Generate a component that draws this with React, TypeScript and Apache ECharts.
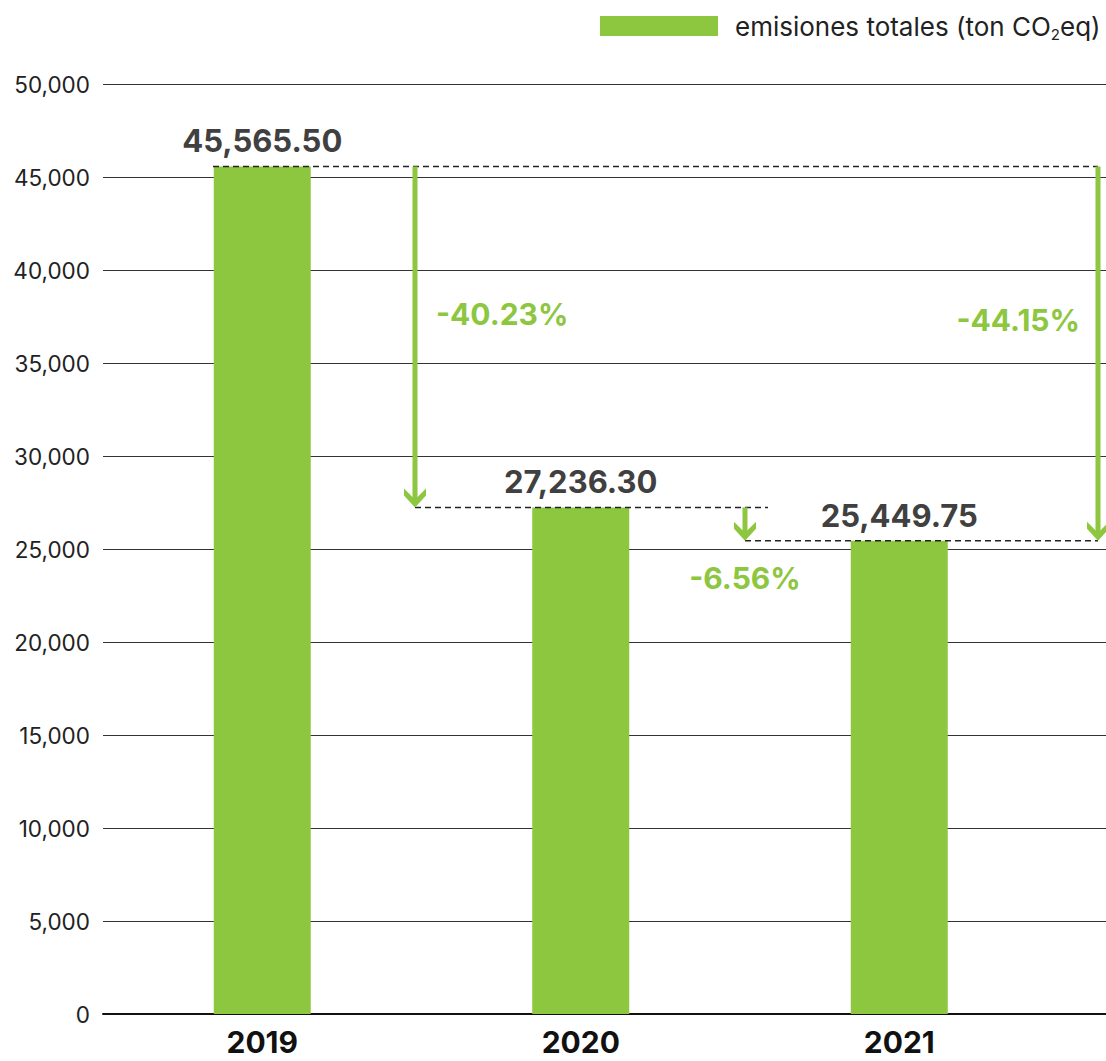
import React, { useEffect, useRef } from "react";
import * as echarts from "echarts";

const categories = ["2019", "2020", "2021"];
const emissions = [45565.5, 27236.3, 25449.75];
const yMin = 0;
const yMax = 50000;
const yStep = 5000;
const legendName = "emisiones totales (ton CO2eq)";
// comparisons: [from index, to index]
const comparisons = [
  [0, 1],
  [1, 2],
  [0, 2],
];

const GREEN = "#8DC63F";
const FONT = "Inter, 'Noto Sans', sans-serif";

// layout (category units on the annotation axis)
const W = 1106;
const H = 1061;
const GRID_LEFT = 103;
const GRID_TOP = 84;
const GRID_BOTTOM = 47;
const BAR_GRID_WIDTH = 955.5;
const FULL_WIDTH = W - GRID_LEFT;
const CAT = BAR_GRID_WIDTH / categories.length;
const X_MAX = FULL_WIDTH / CAT;
const BAR_WIDTH = 97;
const px = (x: number) => (x - GRID_LEFT) / CAT;

const arrowLayout = [
  { x: px(415), ref: "top", dx: 21, dy: 148, align: "left" },
  { x: px(745), ref: "bottom", dx: 0, dy: 37, align: "center" },
  { x: px(1098), ref: "top", dx: -18, dy: 154, align: "right" },
];
const dashLayout = [
  { value: 0, from: px(213), to: px(1098) },
  { value: 1, from: px(415), to: px(768) },
  { value: 2, from: px(745), to: px(1098) },
];

const fmt2 = (v: number) =>
  v.toLocaleString("en-US", { minimumFractionDigits: 2, maximumFractionDigits: 2 });

export default function App() {
  const ref = useRef<HTMLDivElement>(null);
  useEffect(() => {
    document.body.style.margin = "0";
    if (!ref.current) return;
    const chart = echarts.init(ref.current, undefined, { renderer: "svg" });

    const arrowData = comparisons.map(([a, b], i) => [
      arrowLayout[i].x,
      emissions[a],
      emissions[b],
      ((emissions[b] - emissions[a]) / emissions[a]) * 100,
    ]);

    const option: any = {
      animation: false,
      textStyle: { fontFamily: FONT },
      legend: {
        left: 600,
        top: 13,
        padding: 0,
        itemWidth: 118,
        itemHeight: 20,
        icon: "rect",
        data: [legendName],
        formatter: () => "{a|emisiones totales (ton CO}{b|2}{a|eq)}",
        textStyle: {
          padding: [0, 0, 0, 12],
          rich: {
            a: { fontSize: 26, color: "#222", fontFamily: FONT, lineHeight: 32 },
            b: {
              fontSize: 15,
              color: "#222",
              fontFamily: FONT,
              lineHeight: 15,
              verticalAlign: "bottom",
            },
          },
        },
      },
      grid: [
        { left: GRID_LEFT, width: FULL_WIDTH, top: GRID_TOP, bottom: GRID_BOTTOM },
        { left: GRID_LEFT, width: BAR_GRID_WIDTH, top: GRID_TOP, bottom: GRID_BOTTOM },
      ],
      xAxis: [
        {
          gridIndex: 0,
          type: "value",
          min: 0,
          max: X_MAX,
          axisLine: { show: true, onZero: true, lineStyle: { color: "#111", width: 2 } },
          axisTick: { show: false },
          axisLabel: { show: false },
          splitLine: { show: false },
        },
        {
          gridIndex: 1,
          type: "category",
          data: categories,
          axisLine: { show: false },
          axisTick: { show: false },
          axisLabel: {
            margin: 13,
            fontSize: 30,
            lineHeight: 30,
            fontWeight: "bold",
            color: "#111",
            fontFamily: FONT,
          },
        },
      ],
      yAxis: [
        {
          gridIndex: 0,
          type: "value",
          min: yMin,
          max: yMax,
          interval: yStep,
          axisLine: { show: false },
          axisTick: { show: false },
          axisLabel: {
            margin: 13,
            fontSize: 22.5,
            color: "#222",
            fontFamily: FONT,
            formatter: (v: number) => v.toLocaleString("en-US"),
          },
          splitLine: { lineStyle: { color: "#333", width: 1 } },
        },
        {
          gridIndex: 1,
          type: "value",
          min: yMin,
          max: yMax,
          interval: yStep,
          show: false,
          splitLine: { show: false },
        },
      ],
      series: [
        {
          name: legendName,
          type: "bar",
          xAxisIndex: 1,
          yAxisIndex: 1,
          data: emissions,
          barWidth: BAR_WIDTH,
          itemStyle: { color: GREEN },
          label: {
            show: true,
            position: "top",
            distance: 10,
            fontSize: 31,
            fontWeight: "bold",
            color: "#404040",
            fontFamily: FONT,
            formatter: (p: any) => fmt2(p.value),
          },
          z: 2,
        },
        ...dashLayout.map((d) => ({
          type: "line",
          xAxisIndex: 0,
          yAxisIndex: 0,
          data: [
            [d.from, emissions[d.value]],
            [d.to, emissions[d.value]],
          ],
          symbol: "none",
          lineStyle: { color: "#222", width: 1.5, type: [6, 4] },
          z: 3,
          silent: true,
        })),
        {
          type: "custom",
          xAxisIndex: 0,
          yAxisIndex: 0,
          data: arrowData,
          z: 4,
          silent: true,
          renderItem: (params: any, api: any) => {
            const i = params.dataIndex;
            const L = arrowLayout[i];
            const x = api.value(0);
            const p1 = api.coord([x, api.value(1)]);
            const p2 = api.coord([x, api.value(2)]);
            const pct = api.value(3);
            const anchor = L.ref === "top" ? p1 : p2;
            const tx = p2[0];
            const ty = p2[1];
            return {
              type: "group",
              children: [
                {
                  type: "line",
                  shape: { x1: p1[0], y1: p1[1], x2: p2[0], y2: p2[1] - 6 },
                  style: { stroke: GREEN, lineWidth: 5 },
                },
                {
                  type: "polygon",
                  shape: {
                    points: [
                      [tx, ty],
                      [tx - 11, ty - 12],
                      [tx - 11, ty - 19],
                      [tx, ty - 8],
                      [tx + 11, ty - 19],
                      [tx + 11, ty - 12],
                    ],
                  },
                  style: { fill: GREEN },
                },
                {
                  type: "text",
                  x: anchor[0] + L.dx,
                  y: anchor[1] + L.dy,
                  style: {
                    text: pct.toFixed(2) + "%",
                    fill: GREEN,
                    font: `bold 30px ${FONT}`,
                    align: L.align,
                    verticalAlign: "middle",
                  },
                },
              ],
            };
          },
        },
      ],
    };
    chart.setOption(option);
    return () => chart.dispose();
  }, []);
  return <div ref={ref} style={{ width: W, height: H }} />;
}
